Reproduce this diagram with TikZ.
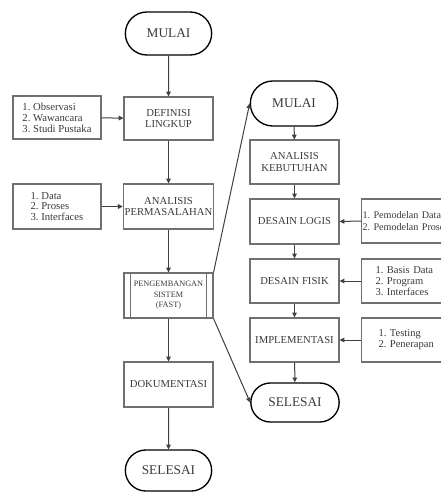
\documentclass[tikz,border=0pt]{standalone}
\usepackage{fontspec}
\setmainfont{Liberation Serif}
\usetikzlibrary{shapes.misc,arrows.meta}
\definecolor{boxline}{HTML}{707070}
\definecolor{txt}{HTML}{3A3A3A}
\definecolor{conn}{HTML}{404040}
\frenchspacing
\begin{document}
\begin{tikzpicture}[x=0.75pt,y=-0.75pt,
  term/.style={rounded rectangle, draw=black, line width=1pt, text=txt,
    font=\fontsize{10}{11}\selectfont, inner sep=1pt},
  procbox/.style={rectangle, draw=boxline, line width=0.8pt, text=txt, align=center,
    font=\fontsize{8}{8.8}\selectfont, inner sep=1pt,
    minimum width=66.75pt, minimum height=33.75pt},
  sidebox/.style={rectangle, draw=boxline, line width=0.8pt, text=txt, align=left,
    font=\fontsize{8}{8.2}\selectfont, inner sep=1pt,
    minimum width=66pt, minimum height=33.75pt},
  rside/.style={rectangle, draw=boxline, line width=0.8pt, text=txt, align=left,
    font=\fontsize{7.9}{8.4}\selectfont, inner ysep=1pt, anchor=west,
    text width=75pt, minimum height=33pt},
  arr/.style={draw=conn, line width=0.75pt, -{Triangle[length=3.6pt,width=3.4pt]}}
]
\useasboundingbox (0,0) rectangle (441,492);
\clip (0,0) rectangle (441,492);
% left column
\node[term, minimum width=66.75pt, minimum height=32.25pt] (mul1) at (168.5,33.5) {MULAI};
\node[procbox, minimum height=32.25pt] (def) at (168.5,118.5) {DEFINISI\\LINGKUP};
\node[sidebox, minimum height=32.25pt] (obs) at (57,117.5) {1. Observasi\\2. Wawancara\\3. Studi Pustaka};
\node[procbox] (anl) at (168.5,206.5) {ANALISIS\\PERMASALAHAN};
\node[sidebox] (dat) at (57,206.5) {1. Data\\2. Proses\\3. Interfaces};
\node[procbox, font=\fontsize{6.2}{7.8}\selectfont] (pen) at (168.5,295.5) {PENGEMBANGAN\\SISTEM\\(FAST)};
\draw[boxline, line width=0.8pt] (pen.north west) ++(7,0) -- ++(0,45);
\draw[boxline, line width=0.8pt] (pen.north east) ++(-7,0) -- ++(0,45);
\node[procbox] (dok) at (168.5,384.5) {DOKUMENTASI};
\node[term, minimum width=66.75pt, minimum height=30.75pt] (sel1) at (168.5,470.5) {SELESAI};
% right column
\node[term, minimum width=67.5pt, minimum height=33.75pt] (mul2) at (294,103.5) {MULAI};
\node[procbox, minimum height=33pt] (keb) at (294.5,162) {ANALISIS\\KEBUTUHAN};
\node[procbox] (log) at (294.5,221.5) {DESAIN LOGIS};
\node[procbox, minimum height=33pt] (fis) at (294.5,281) {DESAIN FISIK};
\node[procbox, minimum height=33pt] (imp) at (294.5,340) {IMPLEMENTASI};
\node[term, minimum width=68.25pt, minimum height=29.25pt] (sel2) at (295,402.5) {SELESAI};
\node[rside, inner xsep=0.75pt, font=\fontsize{7.6}{8.6}\selectfont] (logside) at (361,221) {1. Pemodelan Data\\2. Pemodelan Proses};
\node[rside, inner xsep=10.5pt] (fisside) at (361,281) {1. Basis Data\\2. Program\\3. Interfaces};
\node[rside, inner xsep=12.75pt] (impside) at (361,340) {1. Testing\\2. Penerapan};
% connectors left
\draw[arr] (mul1) -- (def);
\draw[arr] (obs) -- (def);
\draw[arr] (def) -- (anl);
\draw[arr] (dat) -- (anl);
\draw[arr] (anl) -- (pen);
\draw[arr] (pen) -- (dok);
\draw[arr] (dok) -- (sel1);
% connectors right
\draw[arr] (mul2) -- (keb);
\draw[arr] (keb) -- (log);
\draw[arr] (log) -- (fis);
\draw[arr] (fis) -- (imp);
\draw[arr] (imp) -- (sel2);
\draw[arr] (logside.west) -- (log.east);
\draw[arr] (fisside.west) -- (fis.east);
\draw[arr] (impside.west) -- (imp.east);
% branch
\draw[arr] (pen.north east) -- (mul2.west);
\draw[arr] (pen.south east) -- (sel2.west);
\end{tikzpicture}
\end{document}
